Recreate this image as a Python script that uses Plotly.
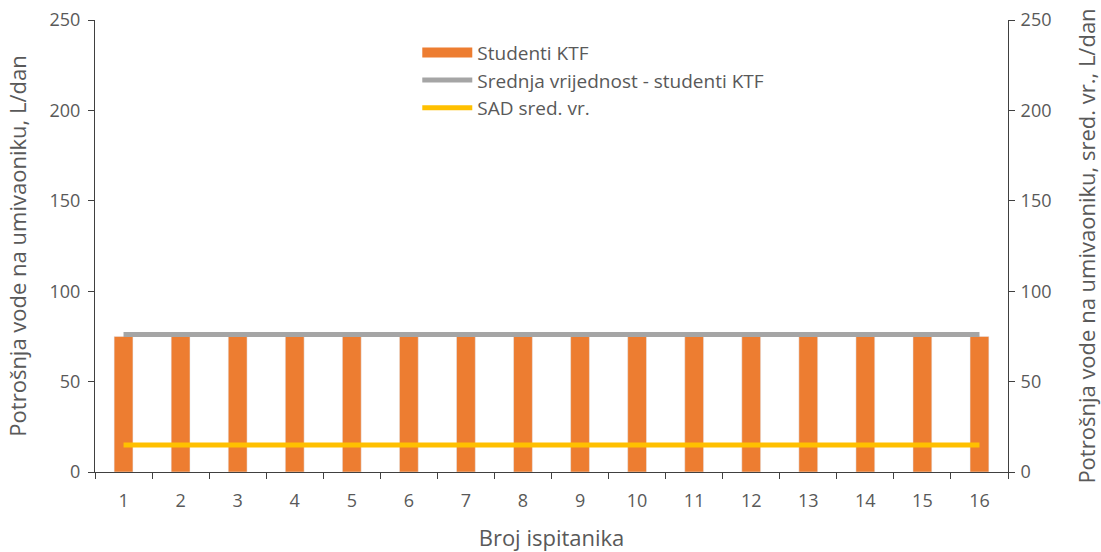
import plotly.graph_objects as go

ispitanici = [str(i) for i in range(1, 17)]
studenti_ktf = [75, 75, 75, 75, 75, 75, 75, 75, 75, 75, 75, 75, 75, 75, 75, 75]
srednja_ktf = [76] * 16
sad_sred = [15] * 16

gray = "#595959"
font = "Open Sans"
orange = "#ED7D31"

fig = go.Figure()
fig.add_trace(go.Bar(x=ispitanici, y=studenti_ktf, name="Studenti KTF",
                     marker_color=orange, width=0.33, showlegend=False))
# legend entry drawn as a wide rectangle, like the original
fig.add_trace(go.Scatter(x=[None], y=[None], name="Studenti KTF", mode="lines",
                         line=dict(color=orange, width=13)))
fig.add_trace(go.Scatter(x=ispitanici, y=srednja_ktf, name="Srednja vrijednost - studenti KTF",
                         mode="lines", line=dict(color="#A5A5A5", width=5), yaxis="y2"))
fig.add_trace(go.Scatter(x=ispitanici, y=sad_sred, name="SAD sred. vr.",
                         mode="lines", line=dict(color="#FFC000", width=5), yaxis="y2"))

axis_common = dict(ticks="outside", ticklen=6, tickcolor="#404040", showline=True,
                   linecolor="#404040", linewidth=1, showgrid=False, zeroline=False,
                   automargin=False, ticklabeloverflow="allow")

fig.update_layout(
    width=1101, height=552,
    margin=dict(l=95, r=93, t=20, b=80),
    plot_bgcolor="white", paper_bgcolor="white",
    font=dict(family=font, size=18, color=gray),
    showlegend=True,
    legend=dict(x=0.353, y=0.97, xanchor="left", yanchor="top",
                bgcolor="rgba(0,0,0,0)", font=dict(size=19, color=gray),
                tracegroupgap=0, itemwidth=50),
    xaxis=dict(type="category", tickson="boundaries", ticklabelstandoff=12,
               title=dict(text="Broj ispitanika", standoff=24), **axis_common),
    yaxis=dict(range=[0, 250], dtick=50, ticklabelstandoff=4,
               title=dict(text="Potrošnja vode na umivaoniku, L/dan", standoff=16), **axis_common),
    yaxis2=dict(range=[0, 250], dtick=50, overlaying="y", side="right", ticklabelstandoff=2,
                title=dict(text="Potrošnja vode na umivaoniku, sred. vr., L/dan", standoff=33),
                **axis_common),
)

# drop the default body margin so the figure fills the window exactly
fig.write_html("out.html", config={"displayModeBar": False},
               post_script="document.body.style.margin='0px';")
